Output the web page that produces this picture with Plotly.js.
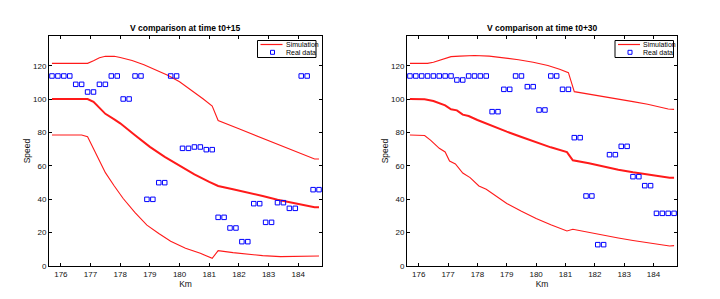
<!DOCTYPE html>
<html>
<head>
<meta charset="utf-8">
<script src="https://cdn.plot.ly/plotly-3.0.1.min.js"></script>
<style>html,body{margin:0;padding:0;background:#fff;}#chart{width:720px;height:299px;}</style>
</head>
<body>
<div id="chart"></div>
<script>
// Measurement positions (km) of real data
const km = [175.7,175.9,176.1,176.3,176.5,176.7,176.9,177.1,177.3,177.5,177.7,177.9,178.1,178.3,178.5,178.7,178.9,179.1,179.3,179.5,179.7,179.9,180.1,180.3,180.5,180.7,180.9,181.1,181.3,181.5,181.7,181.9,182.1,182.3,182.5,182.7,182.9,183.1,183.3,183.5,183.7,183.9,184.1,184.3,184.5,184.7];

// Real data, t0+15
const real15 = [114,114,114,114,109,109,104.4,104.4,109,109,114,114,100.2,100.2,114,114,40,40,50,50,114,114,70.6,70.6,71.4,71.4,69.8,69.8,29.2,29.2,22.8,22.8,14.6,14.6,37.4,37.4,26.2,26.2,38,38,34.6,34.6,114,114,45.8,45.8];
// Real data, t0+30
const real30 = [114,114,114,114,114,114,114,114,111.6,111.6,114,114,114,114,92.6,92.6,106,106,114,114,107.6,107.6,93.6,93.6,114,114,106,106,77,77,42,42,12.8,12.8,66.8,66.8,71.8,71.8,53.6,53.6,48.2,48.2,31.6,31.6,31.6,31.6];

// Simulation, t0+15
const up15x = [175.7,176.9,177.1,177.3,177.5,177.8,178.0,178.4,178.8,179.2,179.6,180.0,180.4,180.8,181.1,181.3,182.0,182.8,183.6,184.55,184.7];
const up15y = [121.6,121.6,123.2,125.0,125.8,125.8,125.1,123.3,120.8,117.8,114.5,110.5,105.5,100.2,96.0,87.3,82.3,76.6,70.9,64.2,64.2];
const mid15x = [175.7,176.9,177.1,177.3,177.5,177.8,178.0,178.5,179.0,179.5,180.0,180.5,181.0,181.3,181.8,182.3,182.8,183.3,183.8,184.3,184.55,184.7];
const mid15y = [100.2,100.2,98.5,95.0,91.3,88.0,85.6,78.5,71.5,65.5,60.0,55.0,50.5,48.0,46.0,44.2,42.0,39.8,37.8,36.0,35.2,35.2];
const low15x = [175.7,176.7,176.9,177.0,177.2,177.5,177.8,178.1,178.5,178.9,179.3,179.7,180.2,180.7,181.1,181.3,181.8,182.3,182.8,183.4,184.0,184.7];
const low15y = [78.6,78.6,77.5,74.0,66.0,56.0,48.0,40.5,32.0,24.5,19.5,14.8,10.6,7.6,4.6,9.2,8.0,7.0,6.2,5.6,5.6,6.0];

// Simulation, t0+30
const up30x = [175.7,176.3,176.5,176.8,177.1,177.4,177.9,178.4,178.9,179.4,179.9,180.4,180.8,181.1,181.3,181.8,182.3,182.8,183.3,183.8,184.3,184.5,184.7];
const up30y = [121.6,121.6,122.3,124.0,125.6,125.9,126.3,125.9,125.0,123.8,122.3,120.3,118.0,116.0,104.6,103.2,101.6,100.1,98.6,97.0,95.2,94.2,94.0];
const mid30x = [175.7,176.2,176.5,176.9,177.1,177.3,177.5,177.7,178.0,178.5,179.0,179.5,180.0,180.5,181.05,181.25,181.8,182.3,182.8,183.3,183.8,184.3,184.55,184.7];
const mid30y = [100.2,100.1,99.0,96.4,94.0,93.4,90.8,90.0,87.6,84.0,80.6,77.4,74.2,71.2,68.3,63.4,61.6,59.6,57.8,56.2,54.8,53.6,53.0,53.0];
const low30x = [175.7,176.2,176.4,176.7,176.9,177.05,177.25,177.5,177.75,178.05,178.3,178.7,179.0,179.5,180.0,180.5,181.05,181.25,181.8,182.3,182.8,183.3,183.8,184.3,184.55,184.7];
const low30y = [78.6,78.3,75.5,70.6,68.4,63.0,61.2,55.8,53.0,48.0,46.0,41.0,37.5,32.8,28.5,24.8,21.0,22.0,20.0,18.4,16.8,15.3,14.0,12.8,12.0,12.2];

const titles = ["V comparison at time t0+15", "V comparison at time t0+30"];
const legendNames = ["Simulation", "Real data"];
const xTicks = [176,177,178,179,180,181,182,183,184];
const yTicks = [0,20,40,60,80,100,120];

const RED = '#ff1a1a', BLUE = '#0000ff';
const FONT = 'Liberation Sans, Arial, Helvetica, sans-serif';
const W = 720, H = 299;

function simTrace(x, y, w, xa, ya) {
  return {x: x, y: y, type: 'scatter', mode: 'lines', name: legendNames[0],
    line: {color: RED, width: w}, xaxis: xa, yaxis: ya, showlegend: false, hoverinfo: 'skip'};
}
function realTrace(y, xa, ya) {
  return {x: km, y: y, type: 'scatter', mode: 'markers', name: legendNames[1],
    marker: {symbol: 'square-open', color: BLUE, size: 4.5, line: {width: 1, color: BLUE}},
    xaxis: xa, yaxis: ya, showlegend: false, hoverinfo: 'skip'};
}

const data = [
  simTrace(up15x, up15y, 1.1, 'x', 'y'),
  simTrace(mid15x, mid15y, 2, 'x', 'y'),
  simTrace(low15x, low15y, 1.1, 'x', 'y'),
  realTrace(real15, 'x', 'y'),
  simTrace(up30x, up30y, 1.1, 'x2', 'y2'),
  simTrace(mid30x, mid30y, 2, 'x2', 'y2'),
  simTrace(low30x, low30y, 1.1, 'x2', 'y2'),
  realTrace(real30, 'x2', 'y2')
];

function xAxis(dom, anchor) {
  return {domain: dom, anchor: anchor, range: [175.6, 184.8], tickvals: xTicks,
    ticks: 'inside', ticklen: 3, tickcolor: '#000', showline: true, linecolor: '#000', linewidth: 1,
    mirror: 'ticks', showgrid: false, zeroline: false, tickfont: {size: 8, color: '#111', family: FONT},
    title: {text: 'Km', font: {size: 8.5, color: '#111', family: FONT}, standoff: 1}, fixedrange: true};
}
function yAxis(anchor) {
  return {domain: [0.1104, 0.8796], anchor: anchor, range: [0, 138], tickvals: yTicks,
    ticks: 'inside', ticklen: 3, tickcolor: '#000', showline: true, linecolor: '#000', linewidth: 1,
    mirror: 'ticks', showgrid: false, zeroline: false, tickfont: {size: 8, color: '#111', family: FONT},
    title: {text: 'Speed', font: {size: 8.5, color: '#111', family: FONT}, standoff: 1}, fixedrange: true};
}

const dom1 = [49/W, 322/W], dom2 = [407/W, 677/W];

// custom compact legends (pixel positions converted to paper coords)
const px = v => v / W, py = v => 1 - v / H;
const shapes = [], annotations = [];
[[257.5, 316], [615, 673.5]].forEach(([l, r]) => {
  shapes.push({type: 'rect', xref: 'paper', yref: 'paper', x0: px(l), x1: px(r), y0: py(57.5), y1: py(40.5),
    line: {color: '#000', width: 1}, fillcolor: '#fff', layer: 'above'});
  shapes.push({type: 'line', xref: 'paper', yref: 'paper', x0: px(l + 3), x1: px(l + 25), y0: py(44.5), y1: py(44.5),
    line: {color: RED, width: 1.2}, layer: 'above'});
  shapes.push({type: 'rect', xref: 'paper', yref: 'paper', x0: px(l + 13), x1: px(l + 17), y0: py(54.3), y1: py(50.3),
    line: {color: BLUE, width: 1}, fillcolor: 'rgba(0,0,0,0)', layer: 'above'});
  annotations.push({text: legendNames[0], xref: 'paper', yref: 'paper', x: px(l + 26), y: py(44.5),
    xanchor: 'left', yanchor: 'middle', showarrow: false, font: {size: 7, color: '#000', family: FONT}});
  annotations.push({text: legendNames[1], xref: 'paper', yref: 'paper', x: px(l + 26), y: py(52.5),
    xanchor: 'left', yanchor: 'middle', showarrow: false, font: {size: 7, color: '#000', family: FONT}});
});
[dom1, dom2].forEach((d, i) => {
  annotations.push({text: '<b>' + titles[i] + '</b>', x: (d[0] + d[1]) / 2, y: 0.8796, xref: 'paper', yref: 'paper',
    xanchor: 'center', yanchor: 'bottom', yshift: 1, showarrow: false, font: {size: 8.5, color: '#000', family: FONT}});
});

const layout = {
  width: W, height: H, margin: {l: 0, r: 0, t: 0, b: 0},
  paper_bgcolor: '#fff', plot_bgcolor: '#fff',
  font: {family: FONT},
  xaxis: xAxis(dom1, 'y'), yaxis: yAxis('x'),
  xaxis2: xAxis(dom2, 'y2'), yaxis2: yAxis('x2'),
  shapes: shapes,
  annotations: annotations,
  showlegend: false
};

Plotly.newPlot('chart', data, layout, {displayModeBar: false, staticPlot: true});
</script>
</body>
</html>
